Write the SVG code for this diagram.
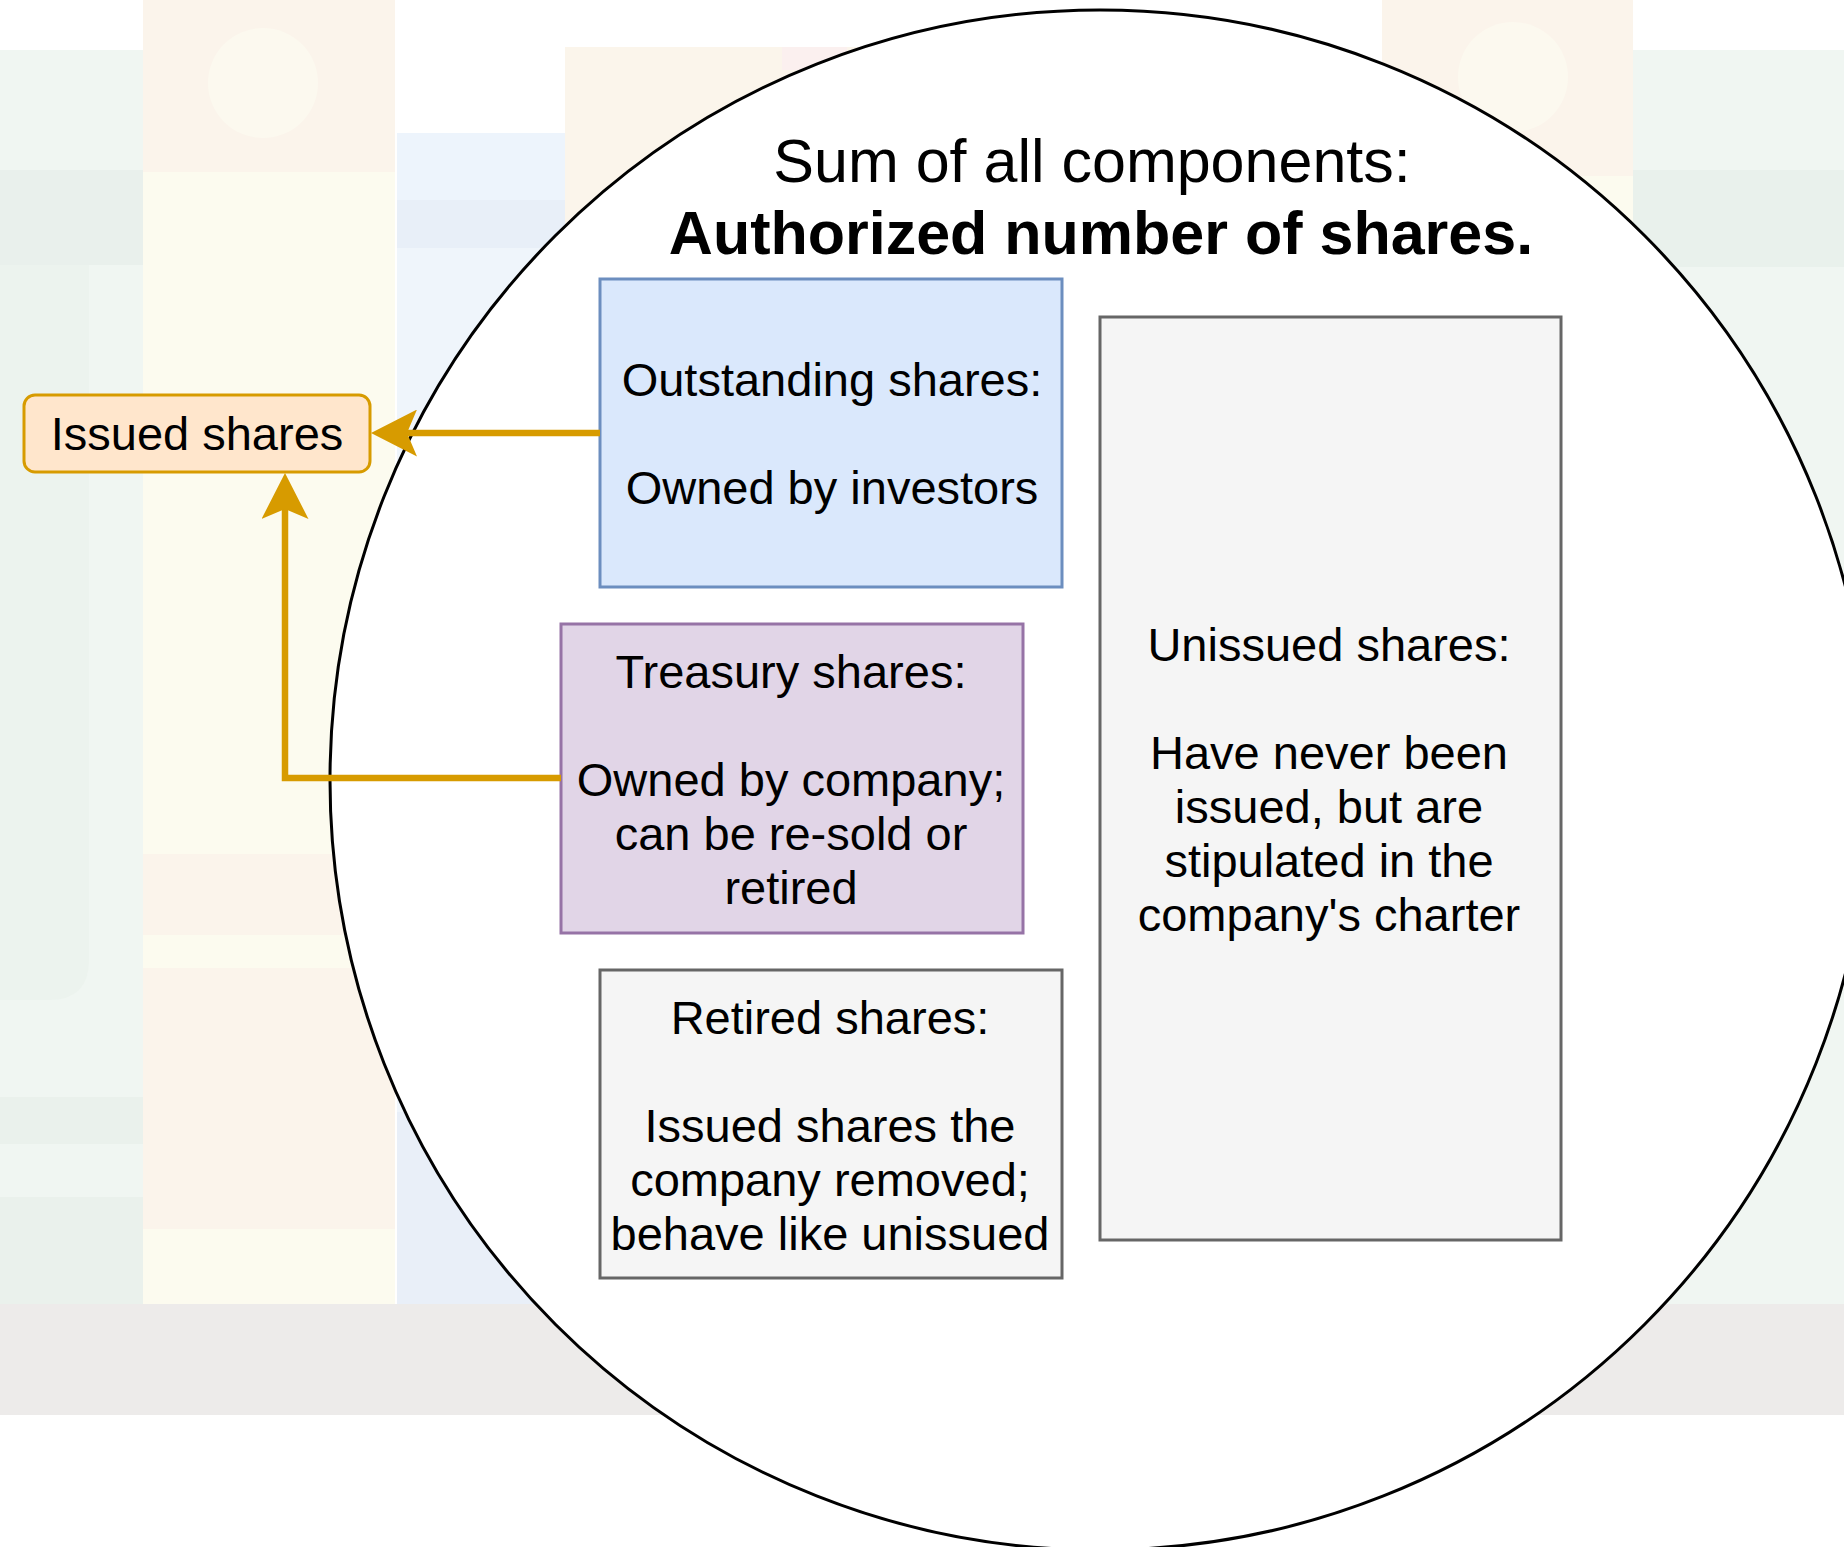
<svg xmlns="http://www.w3.org/2000/svg" width="1844" height="1547" viewBox="0 0 1844 1547">
<style>
  .t { font-family: "Liberation Sans", Arial, Helvetica, sans-serif; font-size: 47px; fill: #000000; text-anchor: middle; }
  .title { font-size: 61px; }
  .b { font-weight: bold; }
  .edge { fill: none; stroke: #d79b00; stroke-width: 6.5; }
  .box { stroke-width: 3; }
</style>
<defs>
  <marker id="arrow" markerUnits="userSpaceOnUse" markerWidth="47" markerHeight="47" viewBox="0 0 46 47" refX="10" refY="23.5" orient="auto">
    <path d="M0,0 L46,23.5 L0,47 L10,23.5 Z" fill="#d79b00"/>
  </marker>
</defs>
<rect x="0" y="0" width="1844" height="1547" fill="#ffffff"/>
<g id="background">
  <rect x="0" y="50" width="143" height="1254" fill="#f0f6f2"/>
  <rect x="0" y="170" width="143" height="95" fill="#e9f0ec"/>
  <path d="M0,265 H89 V960 Q89,1000 49,1000 H0 Z" fill="#ecf3ee"/>
  <rect x="0" y="1097" width="143" height="47" fill="#eaf1ec"/>
  <rect x="0" y="1197" width="143" height="107" fill="#eaf1ec"/>
  <rect x="143" y="0" width="252" height="172" fill="#fbf4eb"/>
  <circle cx="263" cy="83" r="55" fill="#fcf9ef"/>
  <rect x="143" y="172" width="252" height="1132" fill="#fcfbef"/>
  <rect x="143" y="854" width="252" height="81" fill="#fbf4eb"/>
  <rect x="143" y="968" width="252" height="261" fill="#fbf4eb"/>
  <rect x="397" y="133" width="168" height="67" fill="#edf4fc"/>
  <rect x="397" y="200" width="168" height="48" fill="#e8eff8"/>
  <rect x="397" y="248" width="168" height="864" fill="#eff5fb"/>
  <rect x="397" y="1112" width="168" height="192" fill="#e9eff8"/>
  <rect x="565" y="47" width="500" height="1257" fill="#fbf5eb"/>
  <rect x="782" y="47" width="65" height="23" fill="#fbf0ef"/>
  <rect x="1382" y="0" width="251" height="176" fill="#fbf4eb"/>
  <circle cx="1513" cy="77" r="55" fill="#fcf9ef"/>
  <rect x="1382" y="176" width="251" height="1128" fill="#fcfbef"/>
  <rect x="1633" y="50" width="211" height="1254" fill="#f0f6f2"/>
  <rect x="1633" y="170" width="211" height="97" fill="#e9f1ec"/>
  <rect x="0" y="1304" width="1844" height="111" fill="#edebea"/>
</g>
<g id="authorized">
  <circle cx="1100" cy="780" r="770" fill="#ffffff" stroke="#000000" stroke-width="3"/>
  <text class="t title" x="1092" y="182">Sum of all components:</text>
  <text class="t title b" x="1101" y="254">Authorized number of shares.</text>
</g>
<g id="outstanding">
  <rect class="box" x="600" y="279" width="462" height="308" fill="#dae8fc" stroke="#6c8ebf"/>
  <text class="t" x="832" y="396">Outstanding shares:</text>
  <text class="t" x="832" y="504">Owned by investors</text>
</g>
<g id="treasury">
  <rect class="box" x="561" y="624" width="462" height="309" fill="#e1d5e7" stroke="#9673a6"/>
  <text class="t" x="791" y="688">Treasury shares:</text>
  <text class="t" x="791" y="796">Owned by company;</text>
  <text class="t" x="791" y="850">can be re-sold or</text>
  <text class="t" x="791" y="904">retired</text>
</g>
<g id="retired">
  <rect class="box" x="600" y="970" width="462" height="308" fill="#f5f5f5" stroke="#666666"/>
  <text class="t" x="830" y="1034">Retired shares:</text>
  <text class="t" x="830" y="1142">Issued shares the</text>
  <text class="t" x="830" y="1196">company removed;</text>
  <text class="t" x="830" y="1250">behave like unissued</text>
</g>
<g id="unissued">
  <rect class="box" x="1100" y="317" width="461" height="923" fill="#f5f5f5" stroke="#666666"/>
  <text class="t" x="1329" y="661">Unissued shares:</text>
  <text class="t" x="1329" y="769">Have never been</text>
  <text class="t" x="1329" y="823">issued, but are</text>
  <text class="t" x="1329" y="877">stipulated in the</text>
  <text class="t" x="1329" y="931">company's charter</text>
</g>
<g id="issued">
  <rect class="box" x="24" y="395" width="346" height="77" rx="11" ry="11" fill="#ffe6cc" stroke="#d79b00"/>
  <text class="t" x="197" y="450">Issued shares</text>
</g>
<g id="connectors">
  <path class="edge" d="M600,433 H407" marker-end="url(#arrow)"/>
  <path class="edge" d="M561,778 H285 V509" marker-end="url(#arrow)"/>
</g>
</svg>
